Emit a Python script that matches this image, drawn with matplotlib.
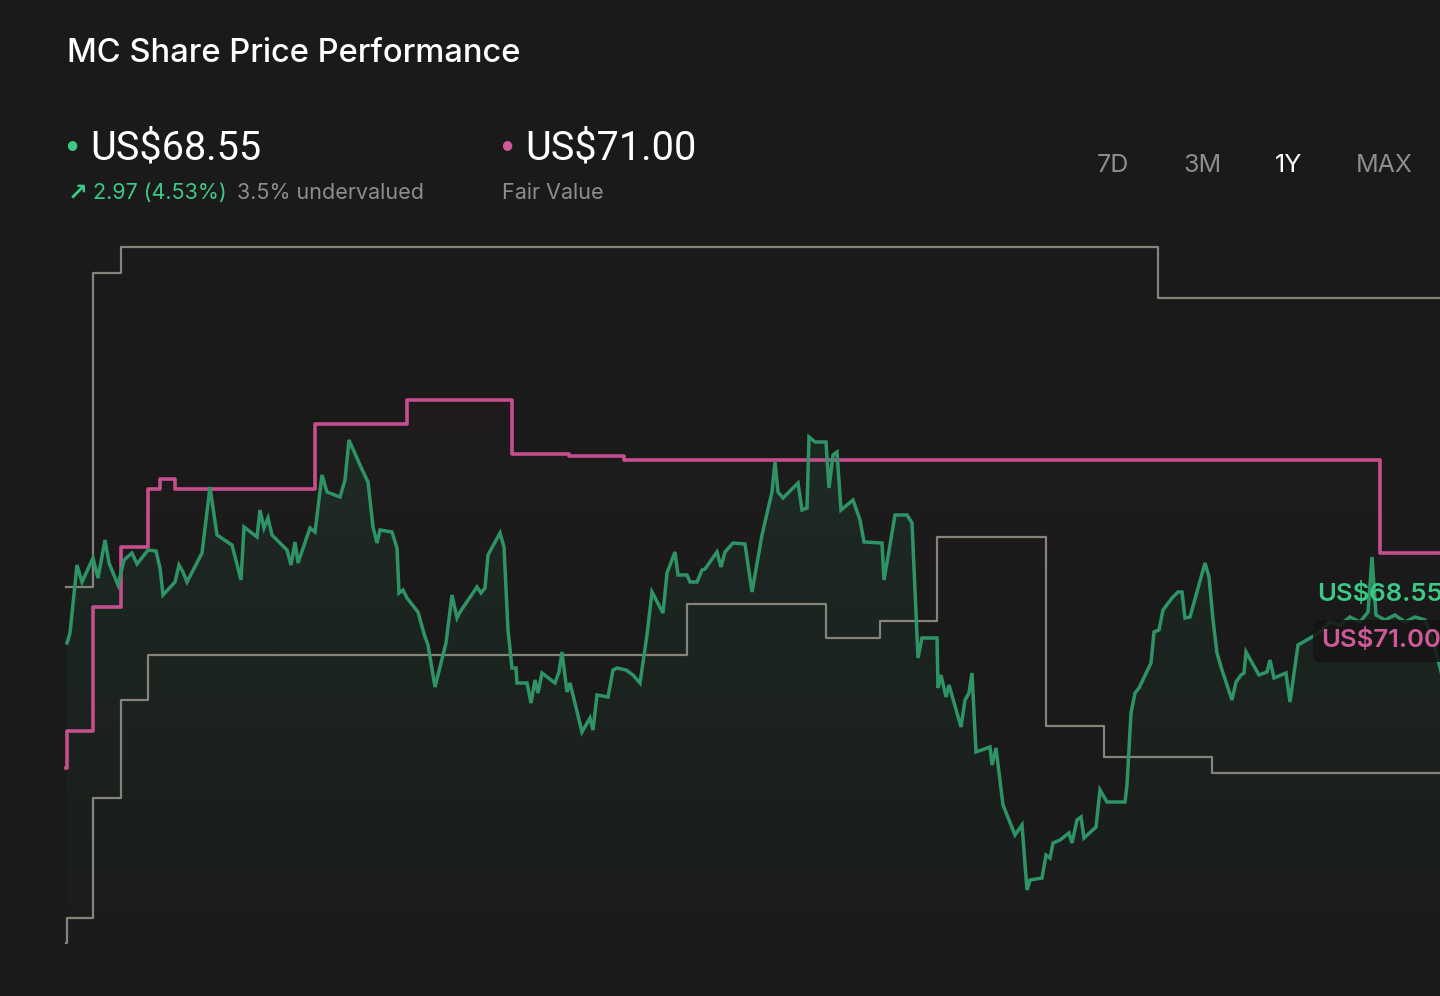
import numpy as np
import matplotlib.pyplot as plt
from matplotlib.patches import Polygon, FancyBboxPatch

plt.rcParams['font.family'] = ['Inter', 'DejaVu Sans']

# ==========================================
# data (day offsets within the 1Y window, prices in US$)
# ==========================================
price_days = [0.25, 1.0, 2.75, 4.0, 6.75, 8.0, 9.75, 10.75, 13.0, 14.5, 16.5, 17.75, 20.5, 22.5,
              23.5, 24.25, 27.25, 28.25, 29.25, 30.25, 34.0, 36.0, 37.75, 41.5, 43.75, 44.5,
              47.75, 48.5, 49.5, 50.5, 51.5, 55.25, 56.25, 57.25, 58.0, 61.0, 62.25, 64.0,
              65.25, 68.5, 69.75, 70.75, 73.5, 75.5, 76.75, 77.75, 78.5, 81.5, 82.75, 83.25,
              84.25, 85.25, 88.0, 89.75, 90.5, 92.25, 95.0, 96.5, 97.75, 98.5, 102.75, 103.75,
              104.75, 105.5, 108.5, 109.5, 110.5, 111.5, 112.5, 112.75, 115.25, 116.25, 117.25,
              118.0, 119.0, 122.25, 123.25, 124.0, 125.25, 126.0, 129.0, 131.0, 131.75, 132.75,
              135.5, 136.75, 137.75, 140.0, 141.75, 143.5, 145.25, 146.5, 149.25, 150.25,
              152.25, 153.0, 155.25, 156.0, 157.75, 159.0, 159.75, 162.75, 163.75, 164.75,
              166.75, 169.75, 171.5, 174.0, 176.5, 177.25, 178.0, 179.25, 183.0, 184.0, 185.25,
              185.75, 187.25, 190.0, 190.75, 191.75, 192.75, 193.75, 196.75, 198.5, 199.5,
              204.0, 204.5, 206.0, 207.25, 210.25, 211.5, 213.0, 214.0, 217.75, 218.0, 218.75,
              220.0, 220.75, 223.75, 224.75, 225.75, 226.5, 227.5, 231.0, 231.5, 232.5, 234.25,
              237.25, 239.0, 240.25, 241.0, 244.0, 245.0, 246.0, 246.75, 248.5, 250.75, 251.5,
              252.75, 253.75, 254.5, 257.5, 258.5, 260.25, 264.75, 265.25, 266.25, 267.25,
              268.25, 271.25, 272.0, 273.25, 274.25, 276.5, 278.0, 279.0, 279.75, 281.0,
              284.75, 285.75, 286.75, 287.75, 289.0, 291.5, 292.5, 293.75, 294.5, 295.0,
              298.25, 300.25, 301.0, 302.0, 305.0, 306.0, 308.0, 311.5, 313.5, 316.0, 318.5,
              321.0, 323.5, 325.5, 326.5, 327.5, 329.75, 332.25, 334.75, 337.25, 339.75,
              341.5, 344.0]
price = [69.20, 69.40, 70.76, 70.42, 70.90, 70.50, 71.26, 70.80, 70.36, 70.86, 71.00, 70.78,
         71.06, 71.04, 70.70, 70.16, 70.42, 70.76, 70.62, 70.42, 71.00, 72.32, 71.36, 71.16,
         70.46, 71.52, 71.32, 71.86, 71.50, 71.70, 71.36, 71.06, 70.76, 71.22, 70.80, 71.50,
         71.42, 72.56, 72.22, 72.12, 72.46, 73.26, 72.76, 72.42, 71.52, 71.20, 71.46, 71.42,
         71.10, 70.20, 70.26, 70.10, 69.82, 69.32, 69.16, 68.32, 69.20, 70.16, 69.70, 69.82,
         70.32, 70.20, 70.30, 70.96, 71.40, 71.12, 69.46, 68.70, 68.70, 68.40, 68.40, 68.00,
         68.46, 68.20, 68.60, 68.40, 68.62, 69.02, 68.22, 68.40, 67.42, 67.70, 67.46, 68.16,
         68.12, 68.66, 68.70, 68.66, 68.56, 68.40, 69.36, 70.22, 69.80, 70.60, 71.02, 70.56,
         70.56, 70.42, 70.42, 70.66, 70.68, 71.02, 70.72, 71.02, 71.20, 71.18, 70.22, 71.36,
         72.22, 72.82, 72.22, 72.10, 72.40, 71.86, 71.90, 73.32, 73.22, 73.22, 72.30, 72.96,
         73.02, 71.86, 72.06, 71.66, 71.22, 71.20, 70.46, 71.16, 71.76, 71.76, 71.60, 68.90,
         69.30, 69.30, 68.30, 68.56, 68.12, 68.36, 67.52, 68.06, 68.20, 68.60, 67.02, 67.12,
         66.76, 67.10, 65.96, 65.36, 65.56, 64.26, 64.46, 64.50, 64.96, 64.90, 65.20, 65.26,
         65.40, 65.20, 65.66, 65.72, 65.30, 65.52, 66.26, 66.02, 66.02, 66.36, 67.80, 68.20,
         68.30, 68.80, 69.42, 69.46, 69.86, 70.10, 70.22, 70.22, 69.70, 69.72, 70.80, 70.52,
         69.66, 69.00, 68.66, 68.06, 68.42, 68.56, 68.60, 69.02, 68.56, 68.62, 68.86, 68.50,
         68.60, 68.02, 69.16, 69.32, 69.42, 69.62, 69.56, 69.72, 69.62, 69.82, 70.92, 69.76,
         69.66, 69.76, 69.62, 69.72, 69.66, 69.32, 68.55]

fv_days = [0.0, 0.25, 6.75, 13.75, 20.5, 23.5, 27.25, 62.25, 85.25, 111.5, 125.75, 139.5, 328.5, 344.0]
fair_value = [66.70, 67.44, 69.92, 71.12, 72.28, 72.48, 72.28, 73.58, 74.06, 72.98, 72.94, 72.86, 71.00, 71.00]

high_days = [0.0, 6.75, 13.75, 273.0, 344.0]
high_target = [70.32, 76.60, 77.12, 76.10, 76.10]

low_days = [0.0, 0.25, 6.75, 13.75, 20.5, 155.25, 190.0, 203.5, 217.75, 245.0, 259.5, 286.5, 344.0]
low_target = [63.20, 63.70, 66.10, 68.06, 68.96, 69.98, 69.30, 69.64, 71.32, 67.54, 66.92, 66.60, 66.60]

periods = ['7D', '3M', '1Y', 'MAX']
active_period = '1Y'
change = 2.97

# ==========================================
# style
# ==========================================
BG = '#1a1a1a'
GREEN = '#2e9466'
GREEN_TXT = '#3cc985'
PINK = '#c54f8e'
PINK_TXT = '#cf5a9a'
GREY = '#86847a'
GREY_TXT = '#8d8d8d'

fig = plt.figure(figsize=(14.4, 9.96), dpi=100, facecolor=BG)
ax = fig.add_axes([0, 0, 1, 1])
ax.set_facecolor(BG)
ax.set_xlim(-16.5, 343.5)
ax.set_ylim(62.14, 82.06)
ax.axis('off')

floor = 63.26


def gradient_fill(x, y, color, a_top, a_bot, top, bottom, z):
    verts = [(x[0], floor)] + list(zip(x, y)) + [(x[-1], floor)]
    poly = Polygon(verts, closed=True, facecolor='none', edgecolor='none')
    ax.add_patch(poly)
    rgba = np.zeros((256, 1, 4))
    rgba[..., :3] = plt.matplotlib.colors.to_rgb(color)
    rgba[..., 3] = np.linspace(a_top, a_bot, 256)[:, None]
    im = ax.imshow(rgba, extent=[x[0], x[-1], bottom, top], aspect='auto',
                   origin='upper', zorder=z, interpolation='bilinear')
    im.set_clip_path(poly)


# fair value area (very faint, only near the top) and price area
fx = np.repeat(fv_days, 2)[1:]
fy = np.repeat(fair_value, 2)[:-1]
gradient_fill(fx, fy, PINK, 0.035, 0.0, max(fair_value), 69.0, 1)
gradient_fill(price_days, price, GREEN, 0.13, 0.02, max(price), floor, 2)

ax.step(high_days, high_target, where='post', color=GREY, lw=1.6, zorder=3)
ax.step(low_days, low_target, where='post', color=GREY, lw=1.6, zorder=3)
ax.step(fv_days, fair_value, where='post', color=PINK, lw=2.6, zorder=4)
ax.plot(price_days, price, color=GREEN, lw=2.5, zorder=5, solid_joinstyle='miter')


def P(x, y):
    return x / 1440, 1 - y / 996


# header
fig.text(*P(67, 53), 'MC Share Price Performance', color='white', fontsize=23.5,
         fontweight='medium', va='center', ha='left')

fig.text(*P(72, 147), '•', color=GREEN_TXT, fontsize=22, va='center', ha='center')
fig.text(*P(90, 148), f'US${price[-1]:.2f}', color='white', fontsize=28.5,
         family=['Roboto', 'DejaVu Sans'], va='center', ha='left')
fig.text(*P(68, 193), '↗', color=GREEN_TXT, fontsize=17, fontweight='bold',
         family=['DejaVu Sans'], va='center', ha='left')
fig.text(*P(93, 193), f'{change:.2f} ({change / (price[-1] - change) * 100:.2f}%)',
         color=GREEN_TXT, fontsize=15.5, va='center', ha='left')
under = (fair_value[-1] - price[-1]) / fair_value[-1] * 100
fig.text(*P(237, 193), f'{under:.1f}% undervalued', color=GREY_TXT, fontsize=15.5,
         va='center', ha='left')

fig.text(*P(507, 147), '•', color=PINK_TXT, fontsize=22, va='center', ha='center')
fig.text(*P(525, 148), f'US${fair_value[-1]:.2f}', color='white', fontsize=28.5,
         family=['Roboto', 'DejaVu Sans'], va='center', ha='left')
fig.text(*P(502, 193), 'Fair Value', color=GREY_TXT, fontsize=15.5, va='center', ha='left')

for label, cx in zip(periods, [1113, 1202, 1289, 1384]):
    fig.text(*P(cx, 165), label, color='white' if label == active_period else GREY_TXT,
             fontsize=18, va='center', ha='center')

# end-of-line labels
box = FancyBboxPatch((1313 / 1440, 1 - 662 / 996), 140 / 1440, 42 / 996,
                     boxstyle='round,pad=0,rounding_size=0.006', transform=fig.transFigure,
                     facecolor='#141414', edgecolor='none', alpha=0.85, zorder=6)
fig.add_artist(box)
fig.text(*P(1317, 594), f'US${price[-1]:.2f}', color=GREEN_TXT, fontsize=18.5,
         fontweight='semibold', va='center', ha='left', zorder=7)
fig.text(*P(1321, 640), f'US${fair_value[-1]:.2f}', color=PINK_TXT, fontsize=18.5,
         fontweight='semibold', va='center', ha='left', zorder=7)

fig.savefig('out.png', dpi=100, facecolor=BG)
